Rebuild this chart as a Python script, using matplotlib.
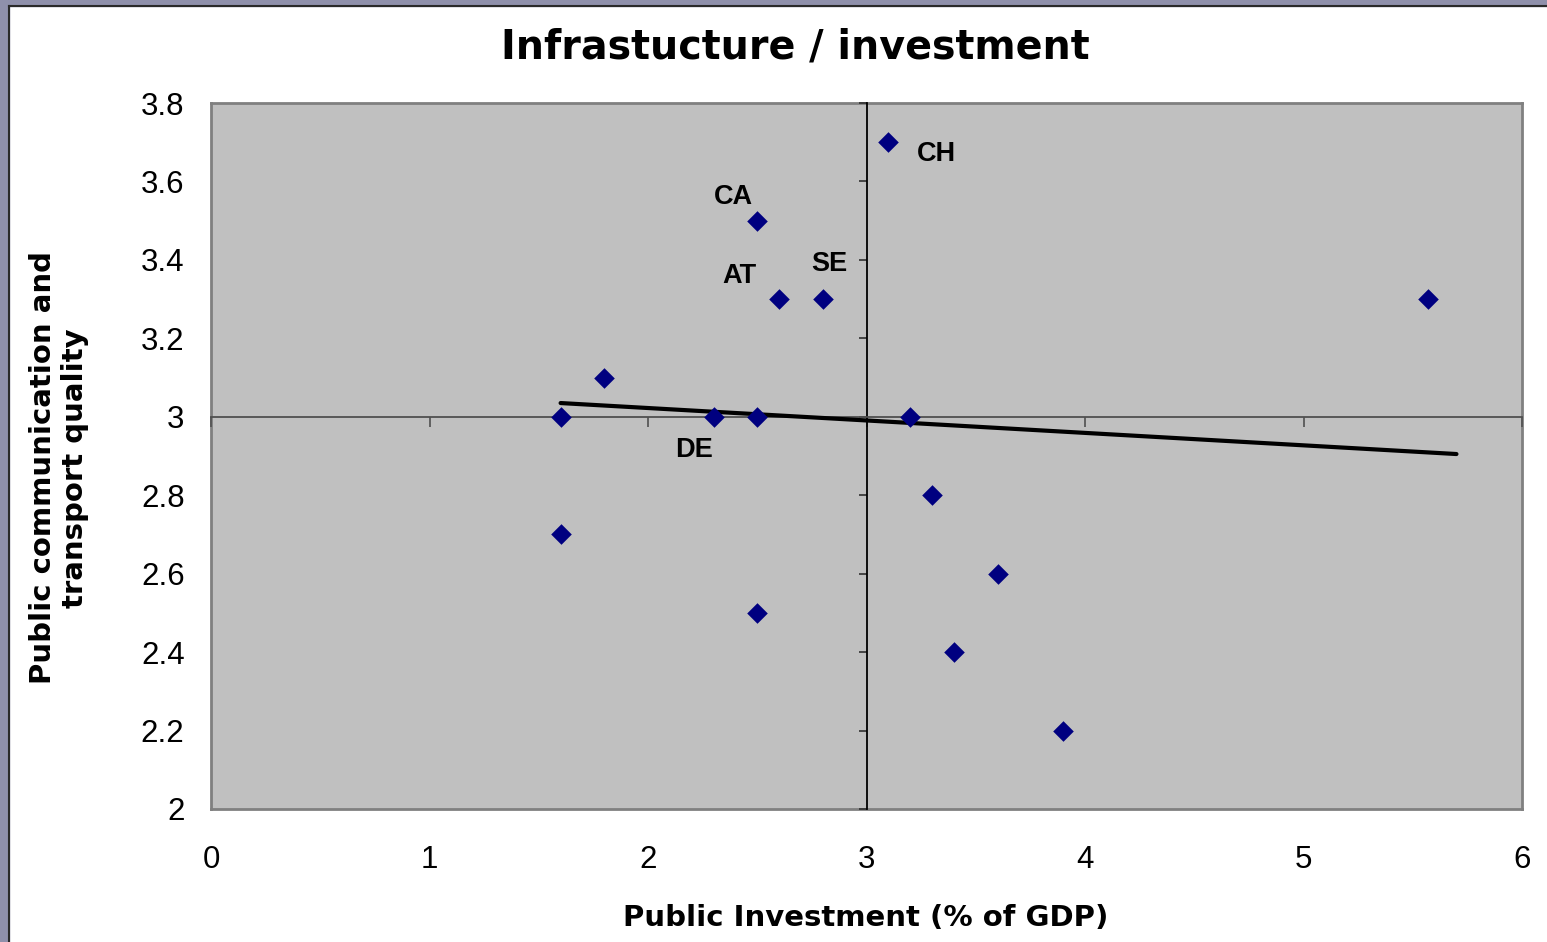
import matplotlib
matplotlib.use("Agg")
import matplotlib.pyplot as plt
from matplotlib.patches import Rectangle

plt.rcParams["font.family"] = ["Liberation Sans", "DejaVu Sans"]

# data
invest = [1.6, 1.8, 1.6, 2.3, 2.5, 2.5, 2.6, 2.8, 3.1, 3.2, 3.3, 3.6, 3.4, 3.9, 2.5, 5.57]
quality = [3.0, 3.1, 2.7, 3.0, 3.0, 3.5, 3.3, 3.3, 3.7, 3.0, 2.8, 2.6, 2.4, 2.2, 2.5, 3.3]

labels = ["CA", "AT", "SE", "CH", "DE"]
label_x = [2.39, 2.42, 2.83, 3.32, 2.21]
label_y = [3.56, 3.36, 3.39, 3.67, 2.915]

trend_x = [1.6, 5.7]
trend_y = [3.035, 2.905]

x_ticks = [0, 1, 2, 3, 4, 5, 6]
y_ticks = [2, 2.2, 2.4, 2.6, 2.8, 3, 3.2, 3.4, 3.6, 3.8]
y_tick_labels = ["2", "2.2", "2.4", "2.6", "2.8", "3", "3.2", "3.4", "3.6", "3.8"]

W, H = 1547, 942
fig = plt.figure(figsize=(W / 100, H / 100), dpi=100, facecolor="white")

# slide-like border on the left and top
fig.patches.append(Rectangle((0, 0), 9 / W, 1, transform=fig.transFigure, color="#8f90ab", zorder=0))
fig.patches.append(Rectangle((0, 1 - 6 / H), 1, 6 / H, transform=fig.transFigure, color="#8f90ab", zorder=0))
fig.add_artist(plt.Line2D([9 / W, 9 / W], [0, 1 - 6 / H], transform=fig.transFigure, color="#2a2a2a", lw=1.5))
fig.add_artist(plt.Line2D([9 / W, 1], [1 - 6 / H, 1 - 6 / H], transform=fig.transFigure, color="#2a2a2a", lw=1.5))

rect = [211 / W, 1 - 809 / H, (1522 - 211) / W, (809 - 103) / H]
ax = fig.add_axes(rect)
ax.set_facecolor("#c0c0c0")
ax.set_xlim(0, 6)
ax.set_ylim(2, 3.8)
ax.set_xticks(x_ticks)
ax.set_yticks(y_ticks)
ax.set_yticklabels(y_tick_labels)
ax.tick_params(axis="both", length=0, labelsize=22.5)
ax.tick_params(axis="x", pad=26)
ax.tick_params(axis="y", pad=19)
for sp in ax.spines.values():
    sp.set_color("#808080")
    sp.set_linewidth(2)

# crossing axes at (3, 3) with their own tick marks
ax2 = fig.add_axes(rect, sharex=ax, sharey=ax)
ax2.patch.set_visible(False)
ax2.spines["top"].set_visible(False)
ax2.spines["right"].set_visible(False)
ax2.spines["left"].set_position(("data", 3))
ax2.spines["bottom"].set_position(("data", 3))
ax2.spines["left"].set_color("black")
ax2.spines["left"].set_linewidth(1.3)
ax2.spines["bottom"].set_color("#505050")
ax2.spines["bottom"].set_linewidth(1.3)
ax2.tick_params(axis="x", direction="out", length=7, width=1.2, color="#505050", labelbottom=False)
ax2.tick_params(axis="y", direction="out", length=6, width=1.2, color="#303030", labelleft=False)

ax2.plot(trend_x, trend_y, color="black", lw=3, solid_capstyle="round", zorder=3)
ax2.scatter(invest, quality, marker="D", s=110, color="#000080", zorder=4, linewidths=0)

for name, lx, ly in zip(labels, label_x, label_y):
    ax2.text(lx, ly, name, fontsize=19.5, fontweight="bold", ha="center", va="center")

wide = ["DejaVu Sans"]
fig.text(795 / W, 1 - 47 / H, "Infrastucture / investment", fontsize=28.5, fontweight="bold",
         ha="center", va="center", family=wide)
fig.text(866 / W, 1 - 918 / H, "Public Investment (% of GDP)", fontsize=21, fontweight="bold",
         ha="center", va="center", family=wide)
fig.text(59 / W, 1 - 468 / H, "Public communication and\ntransport quality", fontsize=21,
         fontweight="bold", rotation=90, ha="center", va="center", multialignment="center",
         linespacing=1.2, family=wide)

fig.savefig("out.png", dpi=100, facecolor=fig.get_facecolor())
